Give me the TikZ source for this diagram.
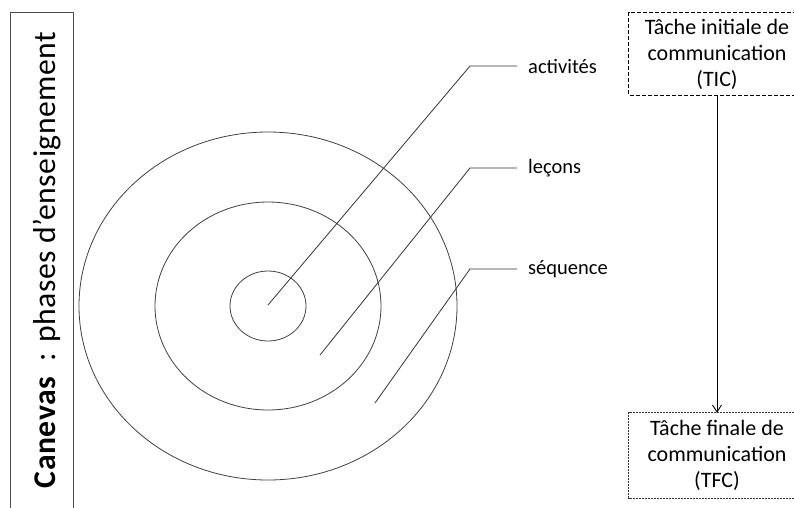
\documentclass[tikz,border=0pt]{standalone}
\usepackage{fontspec}
\setmainfont{Carlito}
\usepackage{graphicx}
\usetikzlibrary{arrows.meta}

\begin{document}
\begin{tikzpicture}[
  x=1pt, y=-1pt,
  >={Straight Barb[length=7pt,width=9pt]},
  every node/.style={inner sep=0pt},
  ring/.style={draw=black!75, line width=0.8pt},
  leader/.style={draw=black!80, line width=0.8pt},
  ringlabel/.style={anchor=west, font=\fontsize{20.5}{24}\selectfont},
  taskbox/.style={align=center, minimum width=176pt,
    font=\fontsize{22}{26}\selectfont}
]

% Parameters (in pixels)
\def\cx{268}   % centre of the rings
\def\cy{306}
\def\ex{470}   % x of the leader elbows
\def\gap{11}   % gap between leader and label
\def\cut{40}   % boxes run past the right edge

\useasboundingbox (0,0) rectangle (794,507);

% --- Left frame with title ---
\draw[draw=black!70, line width=0.8pt] (10,12) rectangle (73,530);
\node[rotate=90] (title) at (47,260)
  {\resizebox{456pt}{!}{\addfontfeatures{LetterSpace=1.5}%
    \textbf{Canevas}\ \ : phases d’enseignement}};

% --- Rings ---
\coordinate (c) at (\cx,\cy);
\draw[ring] (c) ellipse [x radius=189pt, y radius=174pt];
\draw[ring] (c) ellipse [x radius=113pt, y radius=104pt];
\draw[ring] (c) ellipse [x radius=38pt, y radius=35pt];

% --- Labels on the right of the rings ---
\node[ringlabel] (act) at (528,66)  {activités};
\node[ringlabel] (lec) at (528,168) {leçons};
\node[ringlabel] (seq) at (528,269) {séquence};

% --- Leader lines ---
\coordinate (actS) at (268,305);
\coordinate (lecS) at (320,355);
\coordinate (seqS) at (375,403);
\draw[leader] (actS) -- (\ex,66)  -- ([xshift=-\gap pt]act.west);
\draw[leader] (lecS) -- (\ex,168) -- ([xshift=-\gap pt]lec.west);
\draw[leader] (seqS) -- (\ex,269) -- ([xshift=-\gap pt]seq.west);

% --- Task boxes (cut by the right edge) ---
\node[taskbox, minimum height=82pt] (tic) at (717,54)
  {Tâche initiale de\\communication\\(TIC)};
\node[taskbox, minimum height=85pt] (tfc) at (717,455.5)
  {Tâche finale de\\communication\\(TFC)};
\draw[line width=0.9pt, dash pattern=on 4pt off 2pt]
  ([xshift=\cut pt]tic.north east) -- (tic.north west)
  -- (tic.south west) -- ([xshift=\cut pt]tic.south east);
\draw[line width=0.7pt, black!80, dash pattern=on 2pt off 1pt]
  ([xshift=\cut pt]tfc.north east) -- (tfc.north west)
  -- (tfc.south west) -- ([xshift=\cut pt]tfc.south east);

\draw[->, line width=0.9pt] (tic) -- (tfc);

\end{tikzpicture}
\end{document}
